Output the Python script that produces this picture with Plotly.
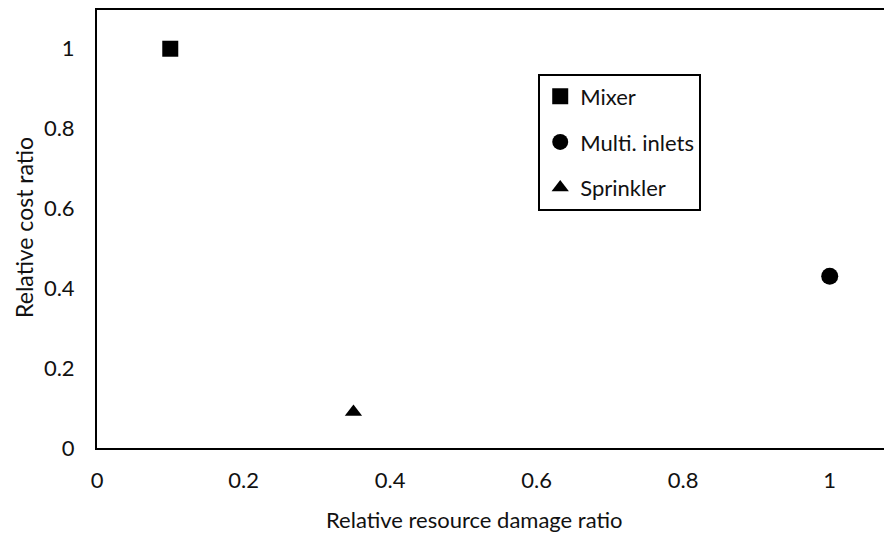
import plotly.graph_objects as go

# data
methods = ["Mixer", "Multi. inlets", "Sprinkler"]
damage_ratio = [0.10, 1.00, 0.35]
cost_ratio = [1.00, 0.43, 0.09]
symbols = ["square", "circle", "triangle-up"]
marker_sizes = [16, 17, 15]

x_ticks = [0, 0.2, 0.4, 0.6, 0.8, 1]
x_tick_text = ["0", "0.2", "0.4", "0.6", "0.8", "1"]
y_ticks = [0, 0.2, 0.4, 0.6, 0.8, 1]
y_tick_text = ["0", "0.2", "0.4", "0.6", "0.8", "1"]

FONT = "Lato"
TEXT = "#111111"

# the page body adds an 8px offset, so the figure is 8px smaller each way
fig = go.Figure()
for i, name in enumerate(methods):
    fig.add_scatter(
        x=[damage_ratio[i]],
        y=[cost_ratio[i]],
        name=name,
        mode="markers",
        legendgroup=name,
        marker=dict(symbol=symbols[i], size=marker_sizes[i], color="black"),
    )

fig.update_layout(
    width=884,
    height=526,
    margin=dict(l=89, r=0, t=0, b=86),
    paper_bgcolor="white",
    plot_bgcolor="white",
    font=dict(family=FONT, size=22, color=TEXT),
    showlegend=True,
    legend=dict(
        x=0.555,
        y=0.855,
        xanchor="left",
        yanchor="top",
        bordercolor="black",
        borderwidth=2,
        bgcolor="white",
        tracegroupgap=14,
        font=dict(family=FONT, size=22, color=TEXT),
        itemwidth=30,
    ),
    annotations=[
        dict(
            text="Relative resource damage ratio",
            xref="paper", yref="paper",
            x=0.475, y=-0.164,
            xanchor="center", yanchor="middle",
            showarrow=False,
            font=dict(family=FONT, size=22, color=TEXT),
        ),
        dict(
            text="Relative cost ratio",
            xref="paper", yref="paper",
            x=-0.092, y=0.5045,
            xanchor="center", yanchor="middle",
            textangle=-90,
            showarrow=False,
            font=dict(family=FONT, size=23, color=TEXT),
        ),
    ],
)

fig.update_xaxes(
    range=[0, 1.085],
    tickvals=x_ticks,
    ticktext=x_tick_text,
    showgrid=False,
    zeroline=False,
    showline=True,
    linecolor="black",
    linewidth=2,
    mirror=True,
    ticks="",
    ticklabelstandoff=12,
)
fig.update_yaxes(
    range=[0, 1.097],
    tickvals=y_ticks,
    ticktext=y_tick_text,
    showgrid=False,
    zeroline=False,
    showline=True,
    linecolor="black",
    linewidth=2,
    ticks="",
    ticklabelstandoff=16,
)

fig.write_html("out.html")
